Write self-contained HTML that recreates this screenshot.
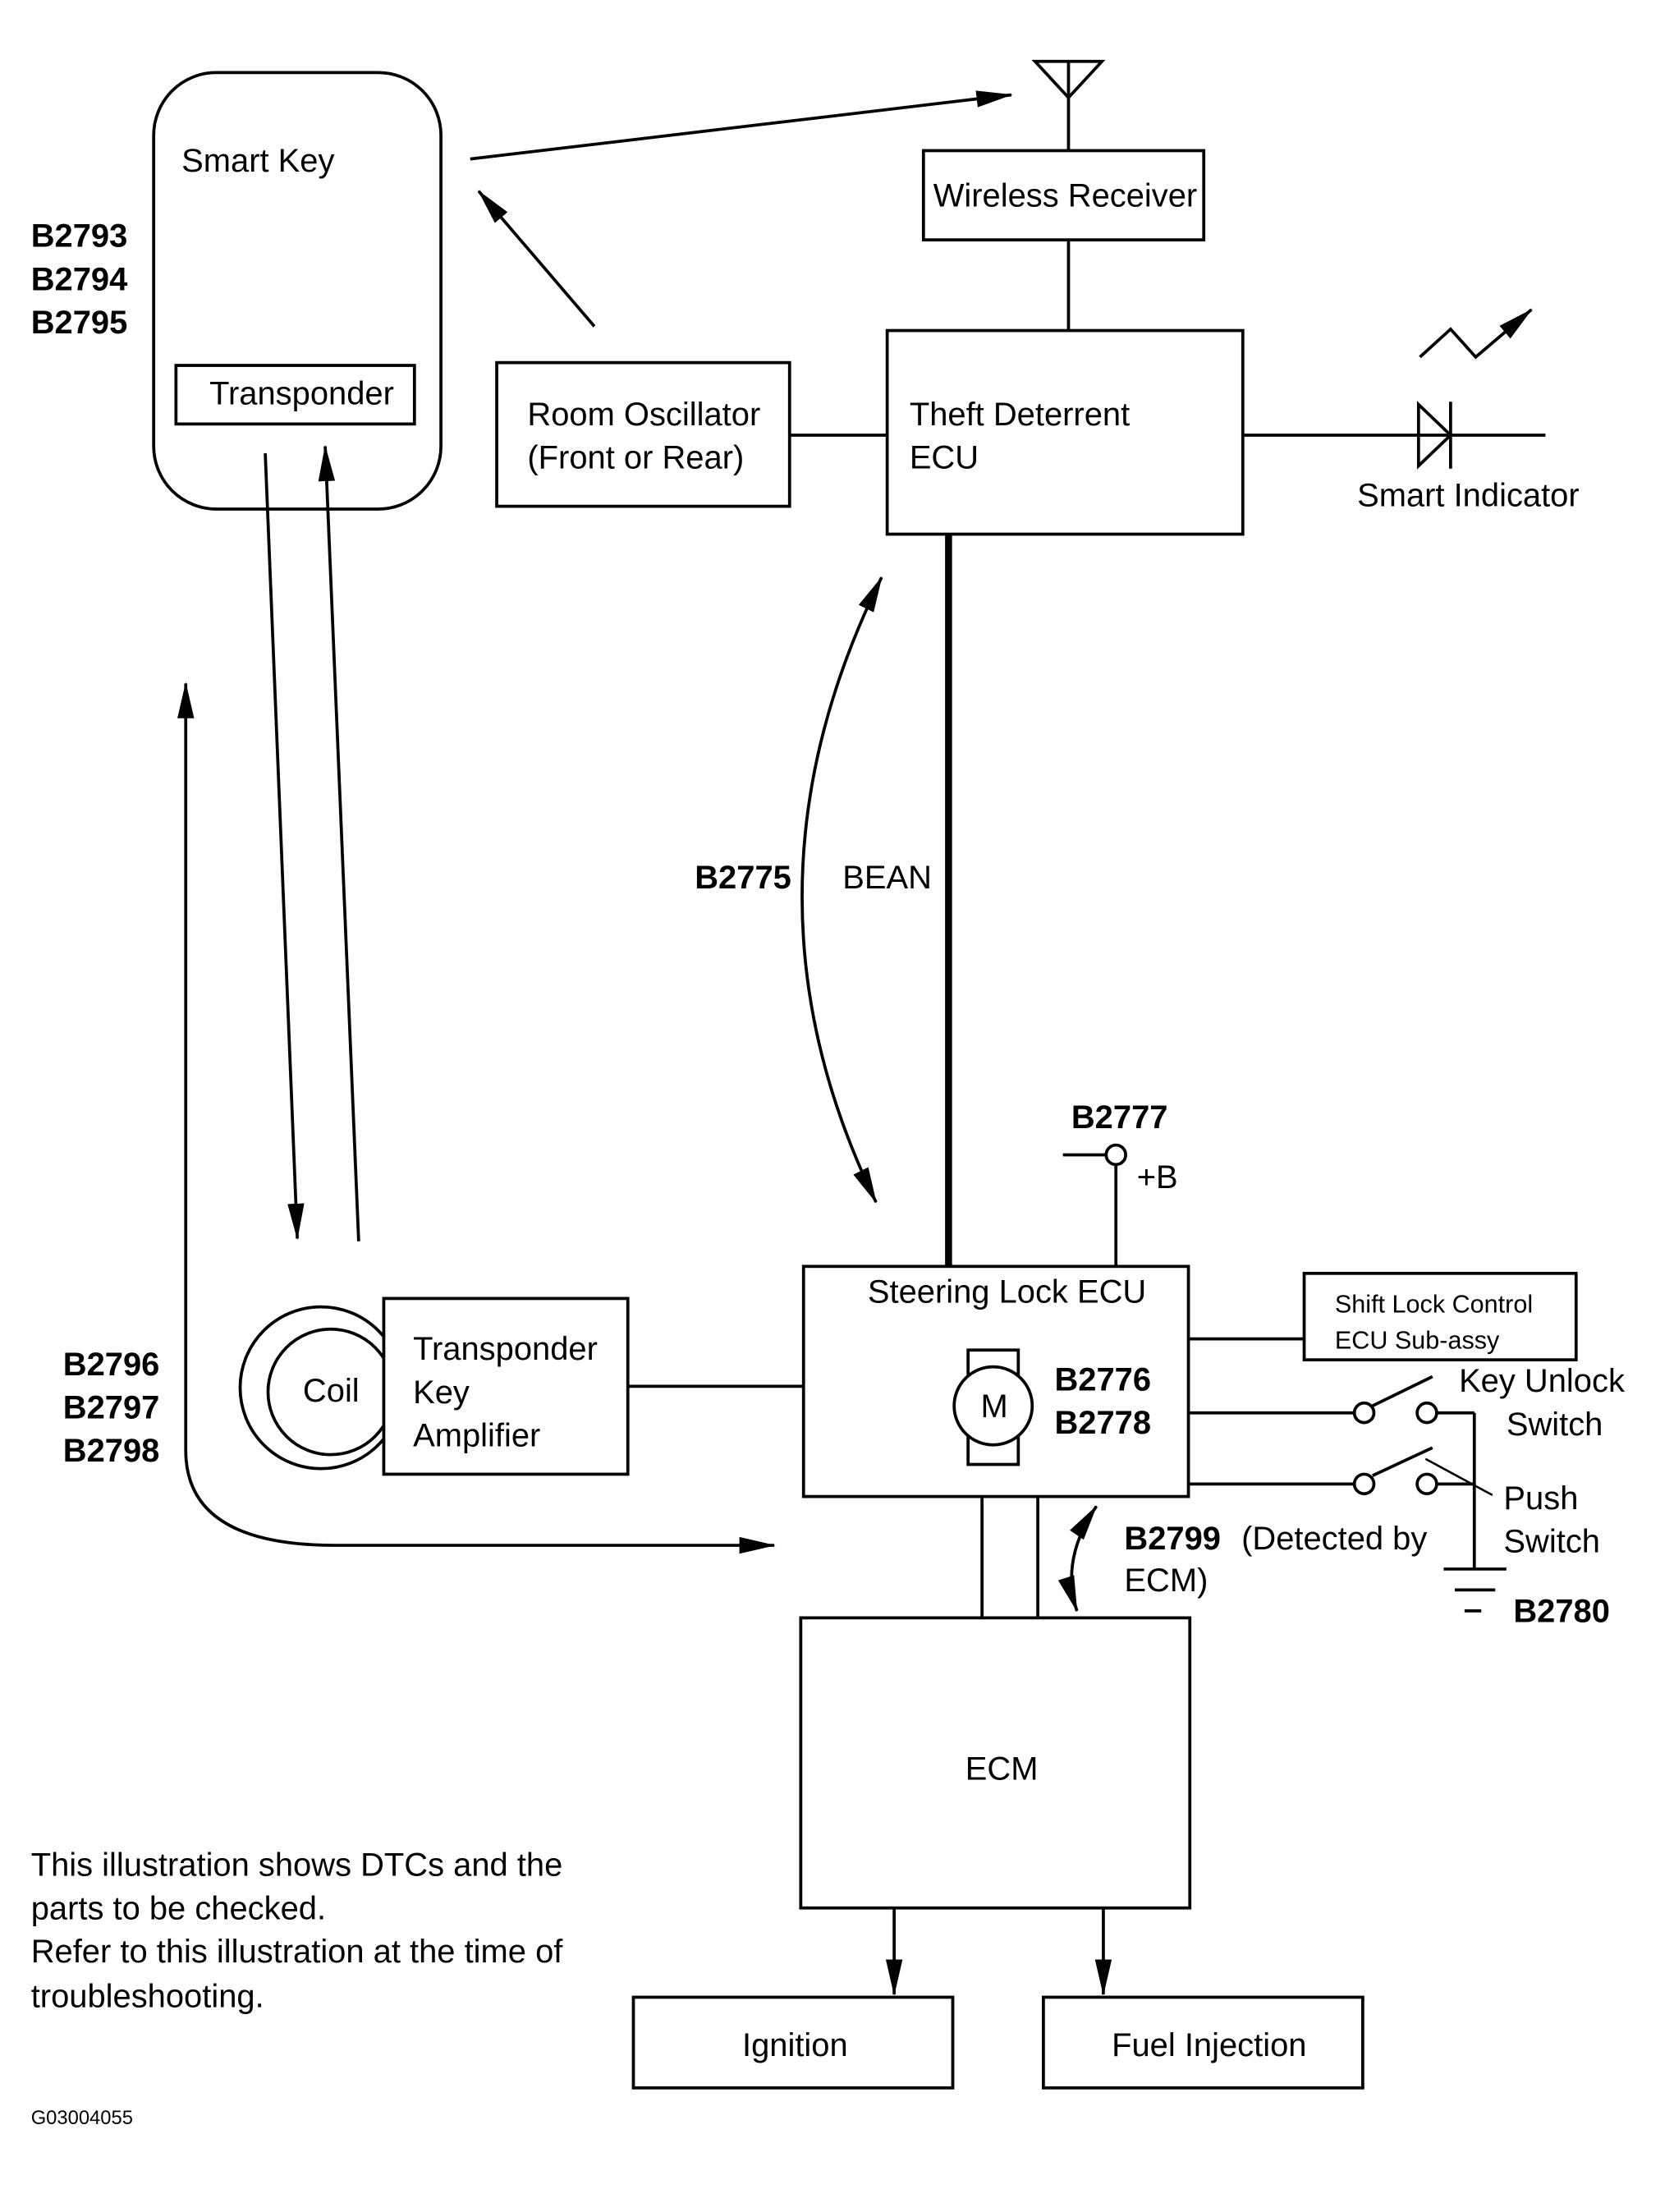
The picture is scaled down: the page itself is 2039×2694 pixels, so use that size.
<!DOCTYPE html>
<html><head><meta charset="utf-8"><style>
html,body{margin:0;padding:0;background:#fff;}
svg{display:block;}
text{font-family:"Liberation Sans",Arial,sans-serif;font-size:23.5px;fill:#000;}
.b{font-weight:bold;}
</style></head><body>
<svg width="2039" height="2694" viewBox="0 0 1200 1586" xmlns="http://www.w3.org/2000/svg">
<defs>
<marker id="A" markerWidth="26" markerHeight="14" refX="25" refY="7" orient="auto" markerUnits="userSpaceOnUse" viewBox="0 0 26 14">
<path d="M0,1 L26,7 L0,13 Z" fill="#000"/></marker>
<marker id="As" markerWidth="26" markerHeight="14" refX="1" refY="7" orient="auto" markerUnits="userSpaceOnUse" viewBox="0 0 26 14">
<path d="M26,1 L0,7 L26,13 Z" fill="#000"/></marker>
</defs>
<g fill="none" stroke="#000" stroke-width="2.2">
<rect x="110" y="52" width="206" height="313" rx="45"/>
<rect x="126" y="262" width="171" height="42"/>
<line x1="337" y1="114" x2="725" y2="68" marker-end="url(#A)"/>
<line x1="426" y1="234" x2="343" y2="137" marker-end="url(#A)"/>
<path d="M742,44 L790,44 L766,70 Z"/>
<line x1="766" y1="44" x2="766" y2="108"/>
<rect x="662" y="108" width="201" height="64"/>
<line x1="766" y1="172" x2="766" y2="237"/>
<rect x="636" y="237" width="255" height="146"/>
<rect x="356" y="260" width="210" height="103"/>
<line x1="566" y1="312" x2="636" y2="312"/>
<line x1="891" y1="312" x2="1108" y2="312"/>
<path d="M1017,290 L1040,312 L1017,334 Z"/>
<line x1="1040" y1="288" x2="1040" y2="336"/>
<polyline points="1018,256 1040,236 1058,256 1098,222" marker-end="url(#A)"/>
<line x1="680" y1="383" x2="680" y2="908" stroke-width="5"/>
<path d="M632,414 Q520,640 628,862" marker-start="url(#As)" marker-end="url(#A)"/>
<line x1="762" y1="828" x2="793" y2="828"/>
<circle cx="800" cy="828" r="7"/>
<line x1="800" y1="835" x2="800" y2="908"/>
<rect x="576" y="908" width="276" height="165"/>
<rect x="694" y="968" width="36" height="82"/>
<circle cx="712" cy="1008" r="28" fill="#fff"/>
<line x1="852" y1="960" x2="935" y2="960"/>
<rect x="935" y="913" width="195" height="62"/>
<line x1="852" y1="1013" x2="971" y2="1013"/>
<circle cx="978" cy="1013" r="7"/><circle cx="1023" cy="1013" r="7"/>
<line x1="984" y1="1008" x2="1027" y2="987"/>
<line x1="1030" y1="1013" x2="1057" y2="1013"/>
<line x1="1057" y1="1013" x2="1057" y2="1125"/>
<line x1="852" y1="1064" x2="971" y2="1064"/>
<circle cx="978" cy="1064" r="7"/><circle cx="1023" cy="1064" r="7"/>
<line x1="984" y1="1058" x2="1027" y2="1038"/>
<line x1="1030" y1="1064" x2="1057" y2="1064"/>
<line x1="1022" y1="1046" x2="1070" y2="1072" stroke-width="1.5"/>
<line x1="1035" y1="1125" x2="1080" y2="1125"/>
<line x1="1043" y1="1140" x2="1072" y2="1140"/>
<line x1="1050" y1="1155" x2="1062" y2="1155"/>
<line x1="704" y1="1073" x2="704" y2="1160"/>
<line x1="744" y1="1073" x2="744" y2="1160"/>
<path d="M786,1080 Q760,1118 772,1155" marker-start="url(#As)" marker-end="url(#A)"/>
<rect x="574" y="1160" width="279" height="208"/>
<line x1="641" y1="1368" x2="641" y2="1430" marker-end="url(#A)"/>
<line x1="791" y1="1368" x2="791" y2="1430" marker-end="url(#A)"/>
<rect x="454" y="1432" width="229" height="65"/>
<rect x="748" y="1432" width="229" height="65"/>
<circle cx="230" cy="995" r="58"/>
<circle cx="237" cy="998" r="45"/>
<rect x="275" y="931" width="175" height="126" fill="#fff"/>
<line x1="450" y1="994" x2="576" y2="994"/>
<line x1="190" y1="325" x2="213" y2="888" marker-end="url(#A)"/>
<line x1="257" y1="890" x2="233" y2="320" marker-end="url(#A)"/>
<path d="M133,1040 Q133,1108 240,1108 L555,1108" marker-end="url(#A)"/>
<line x1="133" y1="1040" x2="133" y2="490" marker-end="url(#A)"/>
</g>
<text x="130" y="123">Smart Key</text>
<text x="150" y="290">Transponder</text>
<text class="b" x="22" y="177">B2793</text>
<text class="b" x="22" y="208">B2794</text>
<text class="b" x="22" y="239">B2795</text>
<text x="669" y="148">Wireless Receiver</text>
<text x="652" y="305">Theft Deterrent</text>
<text x="652" y="336">ECU</text>
<text x="378" y="305">Room Oscillator</text>
<text x="378" y="336">(Front or Rear)</text>
<text x="973" y="363">Smart Indicator</text>
<text class="b" x="498" y="637">B2775</text>
<text x="604" y="637">BEAN</text>
<text class="b" x="768" y="809">B2777</text>
<text x="815" y="852">+B</text>
<text x="622" y="934">Steering Lock ECU</text>
<text x="703" y="1016">M</text>
<text class="b" x="756" y="997">B2776</text>
<text class="b" x="756" y="1028">B2778</text>
<text x="957" y="941" style="font-size:18px">Shift Lock Control</text>
<text x="957" y="967" style="font-size:18px">ECU  Sub-assy</text>
<text x="1046" y="998">Key Unlock</text>
<text x="1080" y="1029">Switch</text>
<text x="1078" y="1082">Push</text>
<text x="1078" y="1113">Switch</text>
<text class="b" x="1085" y="1163">B2780</text>
<text class="b" x="806" y="1111">B2799</text>
<text x="890" y="1111">(Detected  by</text>
<text x="806" y="1141">ECM)</text>
<text x="692" y="1276">ECM</text>
<text x="532" y="1474">Ignition</text>
<text x="797" y="1474">Fuel Injection</text>
<text x="217" y="1005">Coil</text>
<text x="296" y="975">Transponder</text>
<text x="296" y="1006">Key</text>
<text x="296" y="1037">Amplifier</text>
<text class="b" x="45" y="986">B2796</text>
<text class="b" x="45" y="1017">B2797</text>
<text class="b" x="45" y="1048">B2798</text>
<text x="22" y="1345">This illustration shows DTCs and the</text>
<text x="22" y="1376">parts to be checked.</text>
<text x="22" y="1407">Refer to this illustration at the time of</text>
<text x="22" y="1439">troubleshooting.</text>
<text x="22" y="1523" style="font-size:14px">G03004055</text>
</svg>
</body></html>
